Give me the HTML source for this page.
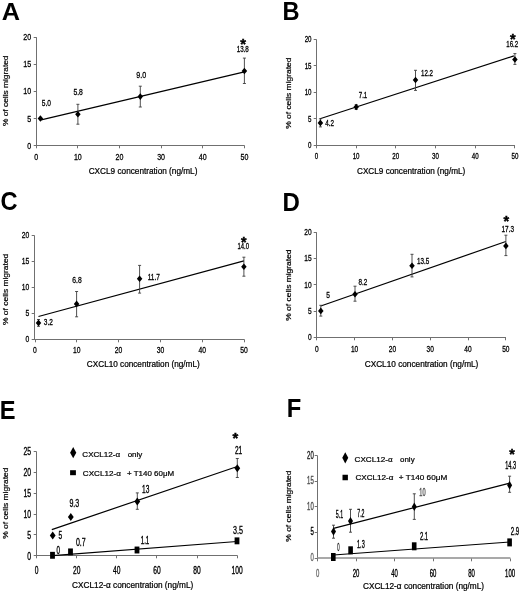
<!DOCTYPE html>
<html><head><meta charset="utf-8"><style>html,body{margin:0;padding:0;background:#fff;overflow:hidden}svg{display:block;will-change:transform;filter:blur(0.3px)}</style></head>
<body><svg width="520" height="592" viewBox="0 0 520 592" font-family='"Liberation Sans", sans-serif'>
<rect width="520" height="592" fill="#fff"/>
<text x="0" y="0" font-size="23.86" font-weight="bold" transform="translate(1.64 19.51) scale(1.061 1)">A</text>
<text x="0" y="0" font-size="25.22" font-weight="bold" transform="translate(282.55 19.75) scale(0.936 1)">B</text>
<text x="0" y="0" font-size="25.22" font-weight="bold" transform="translate(0.51 210.10) scale(0.936 1)">C</text>
<text x="0" y="0" font-size="25.51" font-weight="bold" transform="translate(282.52 211.05) scale(0.942 1)">D</text>
<text x="0" y="0" font-size="25.22" font-weight="bold" transform="translate(-0.21 419.05) scale(0.938 1)">E</text>
<text x="0" y="0" font-size="25.22" font-weight="bold" transform="translate(286.83 417.05) scale(0.944 1)">F</text>
<line x1="36.50" y1="37.20" x2="36.50" y2="145.50" stroke="#707070" stroke-width="1"/>
<line x1="36.00" y1="145.50" x2="244.60" y2="145.50" stroke="#707070" stroke-width="1.0"/>
<line x1="33.70" y1="145.50" x2="36.50" y2="145.50" stroke="#707070" stroke-width="1"/>
<text x="31.22" y="148.70" font-size="8.57" text-anchor="end" font-weight="normal" fill="#000" stroke="#000" stroke-width="0.267" transform="translate(31.22 0) scale(0.824 1) translate(-31.22 0)">0</text>
<line x1="33.70" y1="118.50" x2="36.50" y2="118.50" stroke="#707070" stroke-width="1"/>
<text x="31.22" y="121.58" font-size="8.57" text-anchor="end" font-weight="normal" fill="#000" stroke="#000" stroke-width="0.267" transform="translate(31.22 0) scale(0.824 1) translate(-31.22 0)">5</text>
<line x1="33.70" y1="91.50" x2="36.50" y2="91.50" stroke="#707070" stroke-width="1"/>
<text x="31.22" y="94.46" font-size="8.57" text-anchor="end" font-weight="normal" fill="#000" stroke="#000" stroke-width="0.267" transform="translate(31.22 0) scale(0.824 1) translate(-31.22 0)">10</text>
<line x1="33.70" y1="64.50" x2="36.50" y2="64.50" stroke="#707070" stroke-width="1"/>
<text x="31.22" y="67.34" font-size="8.57" text-anchor="end" font-weight="normal" fill="#000" stroke="#000" stroke-width="0.267" transform="translate(31.22 0) scale(0.824 1) translate(-31.22 0)">15</text>
<line x1="33.70" y1="37.50" x2="36.50" y2="37.50" stroke="#707070" stroke-width="1"/>
<text x="31.22" y="40.22" font-size="8.57" text-anchor="end" font-weight="normal" fill="#000" stroke="#000" stroke-width="0.267" transform="translate(31.22 0) scale(0.824 1) translate(-31.22 0)">20</text>
<line x1="36.50" y1="145.50" x2="36.50" y2="148.30" stroke="#707070" stroke-width="1"/>
<text x="36.20" y="160.00" font-size="8.57" text-anchor="middle" font-weight="normal" fill="#000" stroke="#000" stroke-width="0.267" transform="translate(36.20 0) scale(0.824 1) translate(-36.20 0)">0</text>
<line x1="77.50" y1="145.50" x2="77.50" y2="148.30" stroke="#707070" stroke-width="1"/>
<text x="77.84" y="160.00" font-size="8.57" text-anchor="middle" font-weight="normal" fill="#000" stroke="#000" stroke-width="0.267" transform="translate(77.84 0) scale(0.824 1) translate(-77.84 0)">10</text>
<line x1="119.50" y1="145.50" x2="119.50" y2="148.30" stroke="#707070" stroke-width="1"/>
<text x="119.48" y="160.00" font-size="8.57" text-anchor="middle" font-weight="normal" fill="#000" stroke="#000" stroke-width="0.267" transform="translate(119.48 0) scale(0.824 1) translate(-119.48 0)">20</text>
<line x1="161.50" y1="145.50" x2="161.50" y2="148.30" stroke="#707070" stroke-width="1"/>
<text x="161.12" y="160.00" font-size="8.57" text-anchor="middle" font-weight="normal" fill="#000" stroke="#000" stroke-width="0.267" transform="translate(161.12 0) scale(0.824 1) translate(-161.12 0)">30</text>
<line x1="202.50" y1="145.50" x2="202.50" y2="148.30" stroke="#707070" stroke-width="1"/>
<text x="202.76" y="160.00" font-size="8.57" text-anchor="middle" font-weight="normal" fill="#000" stroke="#000" stroke-width="0.267" transform="translate(202.76 0) scale(0.824 1) translate(-202.76 0)">40</text>
<line x1="244.50" y1="145.50" x2="244.50" y2="148.30" stroke="#707070" stroke-width="1"/>
<text x="244.40" y="160.00" font-size="8.57" text-anchor="middle" font-weight="normal" fill="#000" stroke="#000" stroke-width="0.267" transform="translate(244.40 0) scale(0.824 1) translate(-244.40 0)">50</text>
<text x="143.04" y="174.08" font-size="8.20" text-anchor="middle" font-weight="normal" fill="#000" stroke="#000" stroke-width="0.220" transform="translate(143.04 0) scale(1.004 1) translate(-143.04 0)">CXCL9 concentration (ng/mL)</text>
<text x="0" y="0" font-size="8.10" text-anchor="middle" stroke="#000" stroke-width="0.2" transform="translate(7.60 90.77) rotate(-90) scale(1.033 1)">% of cells migrated</text>
<line x1="41.20" y1="119.90" x2="244.40" y2="71.80" stroke="#000" stroke-width="1.2"/>
<polygon points="40.40,115.20 43.15,118.50 40.40,121.80 37.65,118.50" fill="#000"/>
<line x1="77.90" y1="104.30" x2="77.90" y2="124.20" stroke="#3c3c3c" stroke-width="0.9"/>
<line x1="76.40" y1="104.30" x2="79.40" y2="104.30" stroke="#3c3c3c" stroke-width="0.9"/>
<line x1="76.40" y1="124.20" x2="79.40" y2="124.20" stroke="#3c3c3c" stroke-width="0.9"/>
<polygon points="77.90,110.90 80.65,114.20 77.90,117.50 75.15,114.20" fill="#000"/>
<line x1="140.30" y1="86.20" x2="140.30" y2="107.00" stroke="#3c3c3c" stroke-width="0.9"/>
<line x1="138.80" y1="86.20" x2="141.80" y2="86.20" stroke="#3c3c3c" stroke-width="0.9"/>
<line x1="138.80" y1="107.00" x2="141.80" y2="107.00" stroke="#3c3c3c" stroke-width="0.9"/>
<polygon points="140.30,93.30 143.05,96.60 140.30,99.90 137.55,96.60" fill="#000"/>
<line x1="244.40" y1="58.10" x2="244.40" y2="83.50" stroke="#3c3c3c" stroke-width="0.9"/>
<line x1="242.90" y1="58.10" x2="245.90" y2="58.10" stroke="#3c3c3c" stroke-width="0.9"/>
<line x1="242.90" y1="83.50" x2="245.90" y2="83.50" stroke="#3c3c3c" stroke-width="0.9"/>
<polygon points="244.40,67.70 247.15,71.00 244.40,74.30 241.65,71.00" fill="#000"/>
<text x="46.37" y="106.40" font-size="8.57" text-anchor="middle" font-weight="normal" fill="#000" stroke="#000" stroke-width="0.284" transform="translate(46.37 0) scale(0.775 1) translate(-46.37 0)">5.0</text>
<text x="78.15" y="95.30" font-size="8.57" text-anchor="middle" font-weight="normal" fill="#000" stroke="#000" stroke-width="0.279" transform="translate(78.15 0) scale(0.790 1) translate(-78.15 0)">5.8</text>
<text x="141.21" y="78.40" font-size="8.57" text-anchor="middle" font-weight="normal" fill="#000" stroke="#000" stroke-width="0.263" transform="translate(141.21 0) scale(0.837 1) translate(-141.21 0)">9.0</text>
<text x="242.76" y="51.80" font-size="8.57" text-anchor="middle" font-weight="normal" fill="#000" stroke="#000" stroke-width="0.303" transform="translate(242.76 0) scale(0.727 1) translate(-242.76 0)">13.8</text>
<text x="243.15" y="49.14" font-size="14.74" text-anchor="middle" font-weight="bold" fill="#000" stroke="#000" stroke-width="0.450">*</text>
<line x1="316.50" y1="39.40" x2="316.50" y2="145.50" stroke="#707070" stroke-width="1"/>
<line x1="316.00" y1="145.50" x2="515.00" y2="145.50" stroke="#707070" stroke-width="1.0"/>
<line x1="313.70" y1="145.50" x2="316.50" y2="145.50" stroke="#707070" stroke-width="1"/>
<text x="311.55" y="148.30" font-size="8.29" text-anchor="end" font-weight="normal" fill="#000" stroke="#000" stroke-width="0.295" transform="translate(311.55 0) scale(0.745 1) translate(-311.55 0)">0</text>
<line x1="313.70" y1="118.50" x2="316.50" y2="118.50" stroke="#707070" stroke-width="1"/>
<text x="311.55" y="121.80" font-size="8.29" text-anchor="end" font-weight="normal" fill="#000" stroke="#000" stroke-width="0.295" transform="translate(311.55 0) scale(0.745 1) translate(-311.55 0)">5</text>
<line x1="313.70" y1="92.50" x2="316.50" y2="92.50" stroke="#707070" stroke-width="1"/>
<text x="311.55" y="95.30" font-size="8.29" text-anchor="end" font-weight="normal" fill="#000" stroke="#000" stroke-width="0.295" transform="translate(311.55 0) scale(0.745 1) translate(-311.55 0)">10</text>
<line x1="313.70" y1="65.50" x2="316.50" y2="65.50" stroke="#707070" stroke-width="1"/>
<text x="311.55" y="68.80" font-size="8.29" text-anchor="end" font-weight="normal" fill="#000" stroke="#000" stroke-width="0.295" transform="translate(311.55 0) scale(0.745 1) translate(-311.55 0)">15</text>
<line x1="313.70" y1="39.50" x2="316.50" y2="39.50" stroke="#707070" stroke-width="1"/>
<text x="311.55" y="42.30" font-size="8.29" text-anchor="end" font-weight="normal" fill="#000" stroke="#000" stroke-width="0.295" transform="translate(311.55 0) scale(0.745 1) translate(-311.55 0)">20</text>
<line x1="316.50" y1="145.50" x2="316.50" y2="148.30" stroke="#707070" stroke-width="1"/>
<text x="316.40" y="159.50" font-size="8.29" text-anchor="middle" font-weight="normal" fill="#000" stroke="#000" stroke-width="0.295" transform="translate(316.40 0) scale(0.745 1) translate(-316.40 0)">0</text>
<line x1="356.50" y1="145.50" x2="356.50" y2="148.30" stroke="#707070" stroke-width="1"/>
<text x="356.10" y="159.50" font-size="8.29" text-anchor="middle" font-weight="normal" fill="#000" stroke="#000" stroke-width="0.295" transform="translate(356.10 0) scale(0.745 1) translate(-356.10 0)">10</text>
<line x1="395.50" y1="145.50" x2="395.50" y2="148.30" stroke="#707070" stroke-width="1"/>
<text x="395.80" y="159.50" font-size="8.29" text-anchor="middle" font-weight="normal" fill="#000" stroke="#000" stroke-width="0.295" transform="translate(395.80 0) scale(0.745 1) translate(-395.80 0)">20</text>
<line x1="435.50" y1="145.50" x2="435.50" y2="148.30" stroke="#707070" stroke-width="1"/>
<text x="435.50" y="159.50" font-size="8.29" text-anchor="middle" font-weight="normal" fill="#000" stroke="#000" stroke-width="0.295" transform="translate(435.50 0) scale(0.745 1) translate(-435.50 0)">30</text>
<line x1="475.50" y1="145.50" x2="475.50" y2="148.30" stroke="#707070" stroke-width="1"/>
<text x="475.20" y="159.50" font-size="8.29" text-anchor="middle" font-weight="normal" fill="#000" stroke="#000" stroke-width="0.295" transform="translate(475.20 0) scale(0.745 1) translate(-475.20 0)">40</text>
<line x1="514.50" y1="145.50" x2="514.50" y2="148.30" stroke="#707070" stroke-width="1"/>
<text x="514.90" y="159.50" font-size="8.29" text-anchor="middle" font-weight="normal" fill="#000" stroke="#000" stroke-width="0.295" transform="translate(514.90 0) scale(0.745 1) translate(-514.90 0)">50</text>
<text x="411.14" y="173.98" font-size="8.20" text-anchor="middle" font-weight="normal" fill="#000" stroke="#000" stroke-width="0.220">CXCL9 concentration (ng/mL)</text>
<text x="0" y="0" font-size="8.10" text-anchor="middle" stroke="#000" stroke-width="0.2" transform="translate(290.50 93.20) rotate(-90) scale(1.043 1)">% of cells migrated</text>
<line x1="320.00" y1="118.80" x2="513.90" y2="55.90" stroke="#000" stroke-width="1.2"/>
<line x1="320.40" y1="118.80" x2="320.40" y2="126.90" stroke="#3c3c3c" stroke-width="0.9"/>
<line x1="318.90" y1="118.80" x2="321.90" y2="118.80" stroke="#3c3c3c" stroke-width="0.9"/>
<line x1="318.90" y1="126.90" x2="321.90" y2="126.90" stroke="#3c3c3c" stroke-width="0.9"/>
<polygon points="320.40,119.60 323.15,122.90 320.40,126.20 317.65,122.90" fill="#000"/>
<line x1="356.20" y1="104.70" x2="356.20" y2="109.50" stroke="#3c3c3c" stroke-width="0.9"/>
<line x1="354.70" y1="104.70" x2="357.70" y2="104.70" stroke="#3c3c3c" stroke-width="0.9"/>
<line x1="354.70" y1="109.50" x2="357.70" y2="109.50" stroke="#3c3c3c" stroke-width="0.9"/>
<polygon points="356.20,103.70 358.95,107.00 356.20,110.30 353.45,107.00" fill="#000"/>
<line x1="415.50" y1="70.30" x2="415.50" y2="90.40" stroke="#3c3c3c" stroke-width="0.9"/>
<line x1="414.00" y1="70.30" x2="417.00" y2="70.30" stroke="#3c3c3c" stroke-width="0.9"/>
<line x1="414.00" y1="90.40" x2="417.00" y2="90.40" stroke="#3c3c3c" stroke-width="0.9"/>
<polygon points="415.50,76.70 418.25,80.00 415.50,83.30 412.75,80.00" fill="#000"/>
<line x1="514.90" y1="53.60" x2="514.90" y2="64.40" stroke="#3c3c3c" stroke-width="0.9"/>
<line x1="513.40" y1="53.60" x2="516.40" y2="53.60" stroke="#3c3c3c" stroke-width="0.9"/>
<line x1="513.40" y1="64.40" x2="516.40" y2="64.40" stroke="#3c3c3c" stroke-width="0.9"/>
<polygon points="514.90,56.20 517.65,59.50 514.90,62.80 512.15,59.50" fill="#000"/>
<text x="329.71" y="125.65" font-size="8.14" text-anchor="middle" font-weight="normal" fill="#000" stroke="#000" stroke-width="0.282" transform="translate(329.71 0) scale(0.781 1) translate(-329.71 0)">4.2</text>
<text x="363.02" y="98.35" font-size="8.14" text-anchor="middle" font-weight="normal" fill="#000" stroke="#000" stroke-width="0.296" transform="translate(363.02 0) scale(0.743 1) translate(-363.02 0)">7.1</text>
<text x="427.04" y="75.95" font-size="8.14" text-anchor="middle" font-weight="normal" fill="#000" stroke="#000" stroke-width="0.289" transform="translate(427.04 0) scale(0.762 1) translate(-427.04 0)">12.2</text>
<text x="512.24" y="46.55" font-size="8.14" text-anchor="middle" font-weight="normal" fill="#000" stroke="#000" stroke-width="0.294" transform="translate(512.24 0) scale(0.749 1) translate(-512.24 0)">16.2</text>
<text x="512.80" y="44.21" font-size="14.47" text-anchor="middle" font-weight="bold" fill="#000" stroke="#000" stroke-width="0.450">*</text>
<line x1="34.50" y1="235.40" x2="34.50" y2="339.50" stroke="#707070" stroke-width="1"/>
<line x1="34.00" y1="339.50" x2="244.50" y2="339.50" stroke="#707070" stroke-width="1.0"/>
<line x1="31.70" y1="339.50" x2="34.50" y2="339.50" stroke="#707070" stroke-width="1"/>
<text x="29.33" y="342.50" font-size="8.29" text-anchor="end" font-weight="normal" fill="#000" stroke="#000" stroke-width="0.269" transform="translate(29.33 0) scale(0.816 1) translate(-29.33 0)">0</text>
<line x1="31.70" y1="313.50" x2="34.50" y2="313.50" stroke="#707070" stroke-width="1"/>
<text x="29.33" y="316.45" font-size="8.29" text-anchor="end" font-weight="normal" fill="#000" stroke="#000" stroke-width="0.269" transform="translate(29.33 0) scale(0.816 1) translate(-29.33 0)">5</text>
<line x1="31.70" y1="287.50" x2="34.50" y2="287.50" stroke="#707070" stroke-width="1"/>
<text x="29.33" y="290.40" font-size="8.29" text-anchor="end" font-weight="normal" fill="#000" stroke="#000" stroke-width="0.269" transform="translate(29.33 0) scale(0.816 1) translate(-29.33 0)">10</text>
<line x1="31.70" y1="261.50" x2="34.50" y2="261.50" stroke="#707070" stroke-width="1"/>
<text x="29.33" y="264.35" font-size="8.29" text-anchor="end" font-weight="normal" fill="#000" stroke="#000" stroke-width="0.269" transform="translate(29.33 0) scale(0.816 1) translate(-29.33 0)">15</text>
<line x1="31.70" y1="235.50" x2="34.50" y2="235.50" stroke="#707070" stroke-width="1"/>
<text x="29.33" y="238.30" font-size="8.29" text-anchor="end" font-weight="normal" fill="#000" stroke="#000" stroke-width="0.269" transform="translate(29.33 0) scale(0.816 1) translate(-29.33 0)">20</text>
<line x1="35.50" y1="339.50" x2="35.50" y2="342.30" stroke="#707070" stroke-width="1"/>
<text x="35.00" y="353.50" font-size="8.29" text-anchor="middle" font-weight="normal" fill="#000" stroke="#000" stroke-width="0.269" transform="translate(35.00 0) scale(0.816 1) translate(-35.00 0)">0</text>
<line x1="76.50" y1="339.50" x2="76.50" y2="342.30" stroke="#707070" stroke-width="1"/>
<text x="76.80" y="353.50" font-size="8.29" text-anchor="middle" font-weight="normal" fill="#000" stroke="#000" stroke-width="0.269" transform="translate(76.80 0) scale(0.816 1) translate(-76.80 0)">10</text>
<line x1="118.50" y1="339.50" x2="118.50" y2="342.30" stroke="#707070" stroke-width="1"/>
<text x="118.60" y="353.50" font-size="8.29" text-anchor="middle" font-weight="normal" fill="#000" stroke="#000" stroke-width="0.269" transform="translate(118.60 0) scale(0.816 1) translate(-118.60 0)">20</text>
<line x1="160.50" y1="339.50" x2="160.50" y2="342.30" stroke="#707070" stroke-width="1"/>
<text x="160.40" y="353.50" font-size="8.29" text-anchor="middle" font-weight="normal" fill="#000" stroke="#000" stroke-width="0.269" transform="translate(160.40 0) scale(0.816 1) translate(-160.40 0)">30</text>
<line x1="202.50" y1="339.50" x2="202.50" y2="342.30" stroke="#707070" stroke-width="1"/>
<text x="202.20" y="353.50" font-size="8.29" text-anchor="middle" font-weight="normal" fill="#000" stroke="#000" stroke-width="0.269" transform="translate(202.20 0) scale(0.816 1) translate(-202.20 0)">40</text>
<line x1="244.50" y1="339.50" x2="244.50" y2="342.30" stroke="#707070" stroke-width="1"/>
<text x="244.00" y="353.50" font-size="8.29" text-anchor="middle" font-weight="normal" fill="#000" stroke="#000" stroke-width="0.269" transform="translate(244.00 0) scale(0.816 1) translate(-244.00 0)">50</text>
<text x="143.29" y="367.43" font-size="8.20" text-anchor="middle" font-weight="normal" fill="#000" stroke="#000" stroke-width="0.220">CXCL10 concentration (ng/mL)</text>
<text x="0" y="0" font-size="8.10" text-anchor="middle" stroke="#000" stroke-width="0.2" transform="translate(7.60 289.37) rotate(-90) scale(1.042 1)">% of cells migrated</text>
<line x1="38.50" y1="316.50" x2="243.90" y2="260.80" stroke="#000" stroke-width="1.2"/>
<line x1="38.50" y1="319.50" x2="38.50" y2="326.30" stroke="#3c3c3c" stroke-width="0.9"/>
<line x1="37.00" y1="319.50" x2="40.00" y2="319.50" stroke="#3c3c3c" stroke-width="0.9"/>
<line x1="37.00" y1="326.30" x2="40.00" y2="326.30" stroke="#3c3c3c" stroke-width="0.9"/>
<polygon points="38.50,319.60 41.25,322.90 38.50,326.20 35.75,322.90" fill="#000"/>
<line x1="76.60" y1="291.50" x2="76.60" y2="316.80" stroke="#3c3c3c" stroke-width="0.9"/>
<line x1="75.10" y1="291.50" x2="78.10" y2="291.50" stroke="#3c3c3c" stroke-width="0.9"/>
<line x1="75.10" y1="316.80" x2="78.10" y2="316.80" stroke="#3c3c3c" stroke-width="0.9"/>
<polygon points="76.60,300.60 79.35,303.90 76.60,307.20 73.85,303.90" fill="#000"/>
<line x1="139.60" y1="265.40" x2="139.60" y2="293.10" stroke="#3c3c3c" stroke-width="0.9"/>
<line x1="138.10" y1="265.40" x2="141.10" y2="265.40" stroke="#3c3c3c" stroke-width="0.9"/>
<line x1="138.10" y1="293.10" x2="141.10" y2="293.10" stroke="#3c3c3c" stroke-width="0.9"/>
<polygon points="139.60,275.50 142.35,278.80 139.60,282.10 136.85,278.80" fill="#000"/>
<line x1="243.90" y1="257.20" x2="243.90" y2="276.20" stroke="#3c3c3c" stroke-width="0.9"/>
<line x1="242.40" y1="257.20" x2="245.40" y2="257.20" stroke="#3c3c3c" stroke-width="0.9"/>
<line x1="242.40" y1="276.20" x2="245.40" y2="276.20" stroke="#3c3c3c" stroke-width="0.9"/>
<polygon points="243.90,263.40 246.65,266.70 243.90,270.00 241.15,266.70" fill="#000"/>
<text x="48.40" y="325.30" font-size="8.57" text-anchor="middle" font-weight="normal" fill="#000" stroke="#000" stroke-width="0.288" transform="translate(48.40 0) scale(0.763 1) translate(-48.40 0)">3.2</text>
<text x="76.97" y="282.85" font-size="8.57" text-anchor="middle" font-weight="normal" fill="#000" stroke="#000" stroke-width="0.280" transform="translate(76.97 0) scale(0.787 1) translate(-76.97 0)">6.8</text>
<text x="153.80" y="279.95" font-size="8.14" text-anchor="middle" font-weight="normal" fill="#000" stroke="#000" stroke-width="0.277" transform="translate(153.80 0) scale(0.793 1) translate(-153.80 0)">11.7</text>
<text x="243.21" y="249.00" font-size="8.57" text-anchor="middle" font-weight="normal" fill="#000" stroke="#000" stroke-width="0.317" transform="translate(243.21 0) scale(0.695 1) translate(-243.21 0)">14.0</text>
<text x="243.80" y="247.48" font-size="14.21" text-anchor="middle" font-weight="bold" fill="#000" stroke="#000" stroke-width="0.450">*</text>
<line x1="316.50" y1="232.20" x2="316.50" y2="337.50" stroke="#707070" stroke-width="1"/>
<line x1="316.00" y1="337.50" x2="506.00" y2="337.50" stroke="#707070" stroke-width="1.0"/>
<line x1="313.70" y1="337.50" x2="316.50" y2="337.50" stroke="#707070" stroke-width="1"/>
<text x="311.64" y="340.30" font-size="8.29" text-anchor="end" font-weight="normal" fill="#000" stroke="#000" stroke-width="0.278" transform="translate(311.64 0) scale(0.793 1) translate(-311.64 0)">0</text>
<line x1="313.70" y1="311.50" x2="316.50" y2="311.50" stroke="#707070" stroke-width="1"/>
<text x="311.64" y="314.00" font-size="8.29" text-anchor="end" font-weight="normal" fill="#000" stroke="#000" stroke-width="0.278" transform="translate(311.64 0) scale(0.793 1) translate(-311.64 0)">5</text>
<line x1="313.70" y1="284.50" x2="316.50" y2="284.50" stroke="#707070" stroke-width="1"/>
<text x="311.64" y="287.70" font-size="8.29" text-anchor="end" font-weight="normal" fill="#000" stroke="#000" stroke-width="0.278" transform="translate(311.64 0) scale(0.793 1) translate(-311.64 0)">10</text>
<line x1="313.70" y1="258.50" x2="316.50" y2="258.50" stroke="#707070" stroke-width="1"/>
<text x="311.64" y="261.40" font-size="8.29" text-anchor="end" font-weight="normal" fill="#000" stroke="#000" stroke-width="0.278" transform="translate(311.64 0) scale(0.793 1) translate(-311.64 0)">15</text>
<line x1="313.70" y1="232.50" x2="316.50" y2="232.50" stroke="#707070" stroke-width="1"/>
<text x="311.64" y="235.10" font-size="8.29" text-anchor="end" font-weight="normal" fill="#000" stroke="#000" stroke-width="0.278" transform="translate(311.64 0) scale(0.793 1) translate(-311.64 0)">20</text>
<line x1="316.50" y1="337.50" x2="316.50" y2="340.30" stroke="#707070" stroke-width="1"/>
<text x="316.80" y="352.00" font-size="8.29" text-anchor="middle" font-weight="normal" fill="#000" stroke="#000" stroke-width="0.278" transform="translate(316.80 0) scale(0.793 1) translate(-316.80 0)">0</text>
<line x1="354.50" y1="337.50" x2="354.50" y2="340.30" stroke="#707070" stroke-width="1"/>
<text x="354.60" y="352.00" font-size="8.29" text-anchor="middle" font-weight="normal" fill="#000" stroke="#000" stroke-width="0.278" transform="translate(354.60 0) scale(0.793 1) translate(-354.60 0)">10</text>
<line x1="392.50" y1="337.50" x2="392.50" y2="340.30" stroke="#707070" stroke-width="1"/>
<text x="392.40" y="352.00" font-size="8.29" text-anchor="middle" font-weight="normal" fill="#000" stroke="#000" stroke-width="0.278" transform="translate(392.40 0) scale(0.793 1) translate(-392.40 0)">20</text>
<line x1="430.50" y1="337.50" x2="430.50" y2="340.30" stroke="#707070" stroke-width="1"/>
<text x="430.20" y="352.00" font-size="8.29" text-anchor="middle" font-weight="normal" fill="#000" stroke="#000" stroke-width="0.278" transform="translate(430.20 0) scale(0.793 1) translate(-430.20 0)">30</text>
<line x1="468.50" y1="337.50" x2="468.50" y2="340.30" stroke="#707070" stroke-width="1"/>
<text x="468.00" y="352.00" font-size="8.29" text-anchor="middle" font-weight="normal" fill="#000" stroke="#000" stroke-width="0.278" transform="translate(468.00 0) scale(0.793 1) translate(-468.00 0)">40</text>
<line x1="505.50" y1="337.50" x2="505.50" y2="340.30" stroke="#707070" stroke-width="1"/>
<text x="505.80" y="352.00" font-size="8.29" text-anchor="middle" font-weight="normal" fill="#000" stroke="#000" stroke-width="0.278" transform="translate(505.80 0) scale(0.793 1) translate(-505.80 0)">50</text>
<text x="421.54" y="367.33" font-size="8.20" text-anchor="middle" font-weight="normal" fill="#000" stroke="#000" stroke-width="0.220" transform="translate(421.54 0) scale(1.007 1) translate(-421.54 0)">CXCL10 concentration (ng/mL)</text>
<text x="0" y="0" font-size="8.10" text-anchor="middle" stroke="#000" stroke-width="0.2" transform="translate(290.50 285.12) rotate(-90) scale(1.044 1)">% of cells migrated</text>
<line x1="320.80" y1="306.00" x2="505.80" y2="241.50" stroke="#000" stroke-width="1.2"/>
<line x1="320.80" y1="305.30" x2="320.80" y2="316.10" stroke="#3c3c3c" stroke-width="0.9"/>
<line x1="319.30" y1="305.30" x2="322.30" y2="305.30" stroke="#3c3c3c" stroke-width="0.9"/>
<line x1="319.30" y1="316.10" x2="322.30" y2="316.10" stroke="#3c3c3c" stroke-width="0.9"/>
<polygon points="320.80,307.60 323.55,310.90 320.80,314.20 318.05,310.90" fill="#000"/>
<line x1="355.00" y1="286.20" x2="355.00" y2="301.20" stroke="#3c3c3c" stroke-width="0.9"/>
<line x1="353.50" y1="286.20" x2="356.50" y2="286.20" stroke="#3c3c3c" stroke-width="0.9"/>
<line x1="353.50" y1="301.20" x2="356.50" y2="301.20" stroke="#3c3c3c" stroke-width="0.9"/>
<polygon points="355.00,290.90 357.75,294.20 355.00,297.50 352.25,294.20" fill="#000"/>
<line x1="412.00" y1="254.30" x2="412.00" y2="276.90" stroke="#3c3c3c" stroke-width="0.9"/>
<line x1="410.50" y1="254.30" x2="413.50" y2="254.30" stroke="#3c3c3c" stroke-width="0.9"/>
<line x1="410.50" y1="276.90" x2="413.50" y2="276.90" stroke="#3c3c3c" stroke-width="0.9"/>
<polygon points="412.00,262.50 414.75,265.80 412.00,269.10 409.25,265.80" fill="#000"/>
<line x1="505.90" y1="235.20" x2="505.90" y2="255.60" stroke="#3c3c3c" stroke-width="0.9"/>
<line x1="504.40" y1="235.20" x2="507.40" y2="235.20" stroke="#3c3c3c" stroke-width="0.9"/>
<line x1="504.40" y1="255.60" x2="507.40" y2="255.60" stroke="#3c3c3c" stroke-width="0.9"/>
<polygon points="505.90,242.60 508.65,245.90 505.90,249.20 503.15,245.90" fill="#000"/>
<text x="328.07" y="298.40" font-size="8.86" text-anchor="middle" font-weight="normal" fill="#000" stroke="#000" stroke-width="0.295" transform="translate(328.07 0) scale(0.745 1) translate(-328.07 0)">5</text>
<text x="362.85" y="285.10" font-size="8.29" text-anchor="middle" font-weight="normal" fill="#000" stroke="#000" stroke-width="0.289" transform="translate(362.85 0) scale(0.761 1) translate(-362.85 0)">8.2</text>
<text x="423.21" y="263.70" font-size="8.29" text-anchor="middle" font-weight="normal" fill="#000" stroke="#000" stroke-width="0.290" transform="translate(423.21 0) scale(0.758 1) translate(-423.21 0)">13.5</text>
<text x="507.75" y="232.10" font-size="8.29" text-anchor="middle" font-weight="normal" fill="#000" stroke="#000" stroke-width="0.283" transform="translate(507.75 0) scale(0.778 1) translate(-507.75 0)">17.3</text>
<text x="506.20" y="226.41" font-size="14.47" text-anchor="middle" font-weight="bold" fill="#000" stroke="#000" stroke-width="0.450">*</text>
<line x1="36.50" y1="451.50" x2="36.50" y2="555.50" stroke="#707070" stroke-width="1"/>
<line x1="36.00" y1="555.50" x2="237.50" y2="555.50" stroke="#707070" stroke-width="1.0"/>
<line x1="33.70" y1="555.50" x2="36.50" y2="555.50" stroke="#707070" stroke-width="1"/>
<text x="31.13" y="559.60" font-size="11.14" text-anchor="end" font-weight="normal" fill="#000" stroke="#000" stroke-width="0.357" transform="translate(31.13 0) scale(0.616 1) translate(-31.13 0)">0</text>
<line x1="33.70" y1="534.50" x2="36.50" y2="534.50" stroke="#707070" stroke-width="1"/>
<text x="31.13" y="538.76" font-size="11.14" text-anchor="end" font-weight="normal" fill="#000" stroke="#000" stroke-width="0.357" transform="translate(31.13 0) scale(0.616 1) translate(-31.13 0)">5</text>
<line x1="33.70" y1="514.50" x2="36.50" y2="514.50" stroke="#707070" stroke-width="1"/>
<text x="31.13" y="517.92" font-size="11.14" text-anchor="end" font-weight="normal" fill="#000" stroke="#000" stroke-width="0.357" transform="translate(31.13 0) scale(0.616 1) translate(-31.13 0)">10</text>
<line x1="33.70" y1="493.50" x2="36.50" y2="493.50" stroke="#707070" stroke-width="1"/>
<text x="31.13" y="497.08" font-size="11.14" text-anchor="end" font-weight="normal" fill="#000" stroke="#000" stroke-width="0.357" transform="translate(31.13 0) scale(0.616 1) translate(-31.13 0)">15</text>
<line x1="33.70" y1="472.50" x2="36.50" y2="472.50" stroke="#707070" stroke-width="1"/>
<text x="31.13" y="476.24" font-size="11.14" text-anchor="end" font-weight="normal" fill="#000" stroke="#000" stroke-width="0.357" transform="translate(31.13 0) scale(0.616 1) translate(-31.13 0)">20</text>
<line x1="33.70" y1="451.50" x2="36.50" y2="451.50" stroke="#707070" stroke-width="1"/>
<text x="31.13" y="455.40" font-size="11.14" text-anchor="end" font-weight="normal" fill="#000" stroke="#000" stroke-width="0.357" transform="translate(31.13 0) scale(0.616 1) translate(-31.13 0)">25</text>
<line x1="36.50" y1="555.50" x2="36.50" y2="558.30" stroke="#707070" stroke-width="1"/>
<text x="36.60" y="574.30" font-size="11.14" text-anchor="middle" font-weight="normal" fill="#000" stroke="#000" stroke-width="0.368" transform="translate(36.60 0) scale(0.598 1) translate(-36.60 0)">0</text>
<line x1="76.50" y1="555.50" x2="76.50" y2="558.30" stroke="#707070" stroke-width="1"/>
<text x="76.70" y="574.30" font-size="11.14" text-anchor="middle" font-weight="normal" fill="#000" stroke="#000" stroke-width="0.368" transform="translate(76.70 0) scale(0.598 1) translate(-76.70 0)">20</text>
<line x1="116.50" y1="555.50" x2="116.50" y2="558.30" stroke="#707070" stroke-width="1"/>
<text x="116.80" y="574.30" font-size="11.14" text-anchor="middle" font-weight="normal" fill="#000" stroke="#000" stroke-width="0.368" transform="translate(116.80 0) scale(0.598 1) translate(-116.80 0)">40</text>
<line x1="156.50" y1="555.50" x2="156.50" y2="558.30" stroke="#707070" stroke-width="1"/>
<text x="156.90" y="574.30" font-size="11.14" text-anchor="middle" font-weight="normal" fill="#000" stroke="#000" stroke-width="0.368" transform="translate(156.90 0) scale(0.598 1) translate(-156.90 0)">60</text>
<line x1="197.50" y1="555.50" x2="197.50" y2="558.30" stroke="#707070" stroke-width="1"/>
<text x="197.00" y="574.30" font-size="11.14" text-anchor="middle" font-weight="normal" fill="#000" stroke="#000" stroke-width="0.368" transform="translate(197.00 0) scale(0.598 1) translate(-197.00 0)">80</text>
<line x1="237.50" y1="555.50" x2="237.50" y2="558.30" stroke="#707070" stroke-width="1"/>
<text x="237.10" y="574.30" font-size="11.14" text-anchor="middle" font-weight="normal" fill="#000" stroke="#000" stroke-width="0.368" transform="translate(237.10 0) scale(0.598 1) translate(-237.10 0)">100</text>
<text x="132.69" y="588.48" font-size="8.20" text-anchor="middle" font-weight="normal" fill="#000" stroke="#000" stroke-width="0.220" transform="translate(132.69 0) scale(1.006 1) translate(-132.69 0)">CXCL12-α concentration (ng/mL)</text>
<text x="0" y="0" font-size="8.10" text-anchor="middle" stroke="#000" stroke-width="0.2" transform="translate(7.60 503.22) rotate(-90) scale(1.041 1)">% of cells migrated</text>
<polygon points="73.20,447.10 76.30,452.70 73.20,458.30 70.10,452.70" fill="#000"/>
<rect x="70.10" y="470.20" width="5.8" height="5.0" fill="#000"/>
<text x="101.27" y="456.71" font-size="8.00" text-anchor="middle" font-weight="normal" fill="#000" stroke="#000" stroke-width="0.220" transform="translate(101.27 0) scale(1.011 1) translate(-101.27 0)">CXCL12-α</text>
<text x="134.98" y="456.71" font-size="8.00" text-anchor="middle" font-weight="normal" fill="#000" stroke="#000" stroke-width="0.220" transform="translate(134.98 0) scale(0.999 1) translate(-134.98 0)">only</text>
<text x="101.82" y="475.61" font-size="8.00" text-anchor="middle" font-weight="normal" fill="#000" stroke="#000" stroke-width="0.220" transform="translate(101.82 0) scale(1.014 1) translate(-101.82 0)">CXCL12-α</text>
<text x="150.57" y="475.61" font-size="8.00" text-anchor="middle" font-weight="normal" fill="#000" stroke="#000" stroke-width="0.220" transform="translate(150.57 0) scale(0.997 1) translate(-150.57 0)">+ T140 60μM</text>
<line x1="51.80" y1="529.60" x2="237.30" y2="466.50" stroke="#000" stroke-width="1.2"/>
<line x1="52.70" y1="555.70" x2="237.00" y2="541.50" stroke="#000" stroke-width="1.2"/>
<polygon points="52.70,531.40 55.60,535.40 52.70,539.40 49.80,535.40" fill="#000"/>
<polygon points="70.80,513.00 73.70,517.00 70.80,521.00 67.90,517.00" fill="#000"/>
<line x1="137.30" y1="492.90" x2="137.30" y2="509.30" stroke="#3c3c3c" stroke-width="0.9"/>
<line x1="135.80" y1="492.90" x2="138.80" y2="492.90" stroke="#3c3c3c" stroke-width="0.9"/>
<line x1="135.80" y1="509.30" x2="138.80" y2="509.30" stroke="#3c3c3c" stroke-width="0.9"/>
<polygon points="137.30,497.60 140.20,501.60 137.30,505.60 134.40,501.60" fill="#000"/>
<line x1="237.30" y1="458.50" x2="237.30" y2="477.50" stroke="#3c3c3c" stroke-width="0.9"/>
<line x1="235.80" y1="458.50" x2="238.80" y2="458.50" stroke="#3c3c3c" stroke-width="0.9"/>
<line x1="235.80" y1="477.50" x2="238.80" y2="477.50" stroke="#3c3c3c" stroke-width="0.9"/>
<polygon points="237.30,464.20 240.20,468.20 237.30,472.20 234.40,468.20" fill="#000"/>
<rect x="50.10" y="551.85" width="4.8" height="6.9" fill="#000"/>
<rect x="68.10" y="548.45" width="4.8" height="6.9" fill="#000"/>
<rect x="134.60" y="546.55" width="4.8" height="6.9" fill="#000"/>
<rect x="234.60" y="537.40" width="4.8" height="6.9" fill="#000"/>
<text x="60.37" y="538.60" font-size="11.00" text-anchor="middle" font-weight="normal" fill="#000" stroke="#000" stroke-width="0.367" transform="translate(60.37 0) scale(0.600 1) translate(-60.37 0)">5</text>
<text x="74.35" y="507.25" font-size="11.00" text-anchor="middle" font-weight="normal" fill="#000" stroke="#000" stroke-width="0.342" transform="translate(74.35 0) scale(0.643 1) translate(-74.35 0)">9.3</text>
<text x="145.70" y="492.85" font-size="11.00" text-anchor="middle" font-weight="normal" fill="#000" stroke="#000" stroke-width="0.369" transform="translate(145.70 0) scale(0.597 1) translate(-145.70 0)">13</text>
<text x="238.52" y="454.45" font-size="11.00" text-anchor="middle" font-weight="normal" fill="#000" stroke="#000" stroke-width="0.370" transform="translate(238.52 0) scale(0.594 1) translate(-238.52 0)">21</text>
<text x="58.25" y="554.20" font-size="11.00" text-anchor="middle" font-weight="normal" fill="#000" stroke="#000" stroke-width="0.387" transform="translate(58.25 0) scale(0.568 1) translate(-58.25 0)">0</text>
<text x="80.79" y="546.25" font-size="11.00" text-anchor="middle" font-weight="normal" fill="#000" stroke="#000" stroke-width="0.345" transform="translate(80.79 0) scale(0.638 1) translate(-80.79 0)">0.7</text>
<text x="145.01" y="544.15" font-size="11.00" text-anchor="middle" font-weight="normal" fill="#000" stroke="#000" stroke-width="0.389" transform="translate(145.01 0) scale(0.565 1) translate(-145.01 0)">1.1</text>
<text x="238.10" y="533.55" font-size="11.00" text-anchor="middle" font-weight="normal" fill="#000" stroke="#000" stroke-width="0.338" transform="translate(238.10 0) scale(0.650 1) translate(-238.10 0)">3.5</text>
<text x="235.30" y="442.64" font-size="14.74" text-anchor="middle" font-weight="bold" fill="#000" stroke="#000" stroke-width="0.450">*</text>
<line x1="317.50" y1="455.60" x2="317.50" y2="558.50" stroke="#707070" stroke-width="1"/>
<line x1="317.00" y1="558.00" x2="510.40" y2="558.00" stroke="#8c8c8c" stroke-width="1.6"/>
<line x1="314.70" y1="558.50" x2="317.50" y2="558.50" stroke="#707070" stroke-width="1"/>
<text x="313.76" y="561.10" font-size="11.43" text-anchor="end" font-weight="normal" fill="#6a6a6a" stroke="#6a6a6a" stroke-width="0.400" transform="translate(313.76 0) scale(0.523 1) translate(-313.76 0)">0</text>
<line x1="314.70" y1="532.50" x2="317.50" y2="532.50" stroke="#707070" stroke-width="1"/>
<text x="313.76" y="535.50" font-size="11.43" text-anchor="end" font-weight="normal" fill="#000" stroke="#000" stroke-width="0.400" transform="translate(313.76 0) scale(0.523 1) translate(-313.76 0)">5</text>
<line x1="314.70" y1="506.50" x2="317.50" y2="506.50" stroke="#707070" stroke-width="1"/>
<text x="313.76" y="509.90" font-size="11.43" text-anchor="end" font-weight="normal" fill="#505050" stroke="#505050" stroke-width="0.400" transform="translate(313.76 0) scale(0.523 1) translate(-313.76 0)">10</text>
<line x1="314.70" y1="481.50" x2="317.50" y2="481.50" stroke="#707070" stroke-width="1"/>
<text x="313.76" y="484.30" font-size="11.43" text-anchor="end" font-weight="normal" fill="#505050" stroke="#505050" stroke-width="0.400" transform="translate(313.76 0) scale(0.523 1) translate(-313.76 0)">15</text>
<line x1="314.70" y1="455.50" x2="317.50" y2="455.50" stroke="#707070" stroke-width="1"/>
<text x="313.76" y="458.70" font-size="11.43" text-anchor="end" font-weight="normal" fill="#222" stroke="#222" stroke-width="0.400" transform="translate(313.76 0) scale(0.523 1) translate(-313.76 0)">20</text>
<line x1="317.50" y1="558.50" x2="317.50" y2="561.30" stroke="#707070" stroke-width="1"/>
<text x="317.60" y="577.00" font-size="11.43" text-anchor="middle" font-weight="normal" fill="#6a6a6a" stroke="#6a6a6a" stroke-width="0.400" transform="translate(317.60 0) scale(0.523 1) translate(-317.60 0)">0</text>
<line x1="356.50" y1="558.50" x2="356.50" y2="561.30" stroke="#707070" stroke-width="1"/>
<text x="356.10" y="577.00" font-size="11.43" text-anchor="middle" font-weight="normal" fill="#000" stroke="#000" stroke-width="0.400" transform="translate(356.10 0) scale(0.523 1) translate(-356.10 0)">20</text>
<line x1="394.50" y1="558.50" x2="394.50" y2="561.30" stroke="#707070" stroke-width="1"/>
<text x="394.60" y="577.00" font-size="11.43" text-anchor="middle" font-weight="normal" fill="#000" stroke="#000" stroke-width="0.400" transform="translate(394.60 0) scale(0.523 1) translate(-394.60 0)">40</text>
<line x1="433.50" y1="558.50" x2="433.50" y2="561.30" stroke="#707070" stroke-width="1"/>
<text x="433.10" y="577.00" font-size="11.43" text-anchor="middle" font-weight="normal" fill="#000" stroke="#000" stroke-width="0.400" transform="translate(433.10 0) scale(0.523 1) translate(-433.10 0)">60</text>
<line x1="471.50" y1="558.50" x2="471.50" y2="561.30" stroke="#707070" stroke-width="1"/>
<text x="471.60" y="577.00" font-size="11.43" text-anchor="middle" font-weight="normal" fill="#000" stroke="#000" stroke-width="0.400" transform="translate(471.60 0) scale(0.523 1) translate(-471.60 0)">80</text>
<line x1="510.50" y1="558.50" x2="510.50" y2="561.30" stroke="#707070" stroke-width="1"/>
<text x="510.10" y="577.00" font-size="11.43" text-anchor="middle" font-weight="normal" fill="#000" stroke="#000" stroke-width="0.400" transform="translate(510.10 0) scale(0.523 1) translate(-510.10 0)">100</text>
<text x="423.49" y="588.63" font-size="8.20" text-anchor="middle" font-weight="normal" fill="#000" stroke="#000" stroke-width="0.220" transform="translate(423.49 0) scale(1.005 1) translate(-423.49 0)">CXCL12-α concentration (ng/mL)</text>
<text x="0" y="0" font-size="8.10" text-anchor="middle" stroke="#000" stroke-width="0.2" transform="translate(290.50 506.12) rotate(-90) scale(1.041 1)">% of cells migrated</text>
<polygon points="345.25,452.20 348.25,457.80 345.25,463.40 342.25,457.80" fill="#000"/>
<rect x="342.50" y="474.75" width="5.4" height="5.5" fill="#000"/>
<text x="373.57" y="461.96" font-size="8.00" text-anchor="middle" font-weight="normal" fill="#000" stroke="#000" stroke-width="0.220" transform="translate(373.57 0) scale(1.016 1) translate(-373.57 0)">CXCL12-α</text>
<text x="407.33" y="461.96" font-size="8.00" text-anchor="middle" font-weight="normal" fill="#000" stroke="#000" stroke-width="0.220" transform="translate(407.33 0) scale(0.992 1) translate(-407.33 0)">only</text>
<text x="374.47" y="480.36" font-size="8.00" text-anchor="middle" font-weight="normal" fill="#000" stroke="#000" stroke-width="0.220" transform="translate(374.47 0) scale(1.016 1) translate(-374.47 0)">CXCL12-α</text>
<text x="423.02" y="480.36" font-size="8.00" text-anchor="middle" font-weight="normal" fill="#000" stroke="#000" stroke-width="0.220" transform="translate(423.02 0) scale(1.021 1) translate(-423.02 0)">+ T140 60μM</text>
<line x1="333.50" y1="528.30" x2="509.80" y2="483.10" stroke="#000" stroke-width="1.2"/>
<line x1="333.50" y1="555.00" x2="509.80" y2="542.00" stroke="#000" stroke-width="1.2"/>
<line x1="333.50" y1="525.20" x2="333.50" y2="538.20" stroke="#3c3c3c" stroke-width="0.9"/>
<line x1="332.00" y1="525.20" x2="335.00" y2="525.20" stroke="#3c3c3c" stroke-width="0.9"/>
<line x1="332.00" y1="538.20" x2="335.00" y2="538.20" stroke="#3c3c3c" stroke-width="0.9"/>
<polygon points="333.50,527.30 336.00,531.50 333.50,535.70 331.00,531.50" fill="#000"/>
<line x1="350.50" y1="509.30" x2="350.50" y2="532.20" stroke="#3c3c3c" stroke-width="0.9"/>
<line x1="349.00" y1="509.30" x2="352.00" y2="509.30" stroke="#3c3c3c" stroke-width="0.9"/>
<line x1="349.00" y1="532.20" x2="352.00" y2="532.20" stroke="#3c3c3c" stroke-width="0.9"/>
<polygon points="350.50,516.90 353.00,521.10 350.50,525.30 348.00,521.10" fill="#000"/>
<line x1="414.30" y1="493.80" x2="414.30" y2="519.40" stroke="#3c3c3c" stroke-width="0.9"/>
<line x1="412.80" y1="493.80" x2="415.80" y2="493.80" stroke="#3c3c3c" stroke-width="0.9"/>
<line x1="412.80" y1="519.40" x2="415.80" y2="519.40" stroke="#3c3c3c" stroke-width="0.9"/>
<polygon points="414.30,502.50 416.80,506.70 414.30,510.90 411.80,506.70" fill="#000"/>
<line x1="509.60" y1="476.20" x2="509.60" y2="492.30" stroke="#3c3c3c" stroke-width="0.9"/>
<line x1="508.10" y1="476.20" x2="511.10" y2="476.20" stroke="#3c3c3c" stroke-width="0.9"/>
<line x1="508.10" y1="492.30" x2="511.10" y2="492.30" stroke="#3c3c3c" stroke-width="0.9"/>
<polygon points="509.60,481.00 512.10,485.20 509.60,489.40 507.10,485.20" fill="#000"/>
<rect x="331.00" y="553.00" width="4.6" height="8.0" fill="#000"/>
<rect x="348.30" y="546.30" width="4.6" height="8.0" fill="#000"/>
<rect x="411.90" y="542.30" width="4.6" height="8.0" fill="#000"/>
<rect x="507.30" y="538.40" width="4.6" height="8.0" fill="#000"/>
<text x="339.45" y="517.55" font-size="11.29" text-anchor="middle" font-weight="normal" fill="#000" stroke="#000" stroke-width="0.400" transform="translate(339.45 0) scale(0.463 1) translate(-339.45 0)">5.1</text>
<text x="360.87" y="516.65" font-size="11.29" text-anchor="middle" font-weight="normal" fill="#000" stroke="#000" stroke-width="0.400" transform="translate(360.87 0) scale(0.460 1) translate(-360.87 0)">7.2</text>
<text x="422.44" y="495.85" font-size="11.00" text-anchor="middle" font-weight="normal" fill="#505050" stroke="#505050" stroke-width="0.400" transform="translate(422.44 0) scale(0.509 1) translate(-422.44 0)">10</text>
<text x="510.57" y="469.15" font-size="11.43" text-anchor="middle" font-weight="normal" fill="#000" stroke="#000" stroke-width="0.400" transform="translate(510.57 0) scale(0.488 1) translate(-510.57 0)">14.3</text>
<text x="338.35" y="550.90" font-size="11.43" text-anchor="middle" font-weight="normal" fill="#222" stroke="#222" stroke-width="0.400" transform="translate(338.35 0) scale(0.365 1) translate(-338.35 0)">0</text>
<text x="360.87" y="548.20" font-size="11.00" text-anchor="middle" font-weight="normal" fill="#000" stroke="#000" stroke-width="0.400" transform="translate(360.87 0) scale(0.501 1) translate(-360.87 0)">1.3</text>
<text x="424.07" y="540.15" font-size="10.71" text-anchor="middle" font-weight="normal" fill="#000" stroke="#000" stroke-width="0.400" transform="translate(424.07 0) scale(0.543 1) translate(-424.07 0)">2.1</text>
<text x="514.97" y="535.45" font-size="10.71" text-anchor="middle" font-weight="normal" fill="#000" stroke="#000" stroke-width="0.395" transform="translate(514.97 0) scale(0.557 1) translate(-514.97 0)">2.9</text>
<text x="512.00" y="459.08" font-size="14.21" text-anchor="middle" font-weight="bold" fill="#000" stroke="#000" stroke-width="0.450">*</text>
</svg></body></html>
